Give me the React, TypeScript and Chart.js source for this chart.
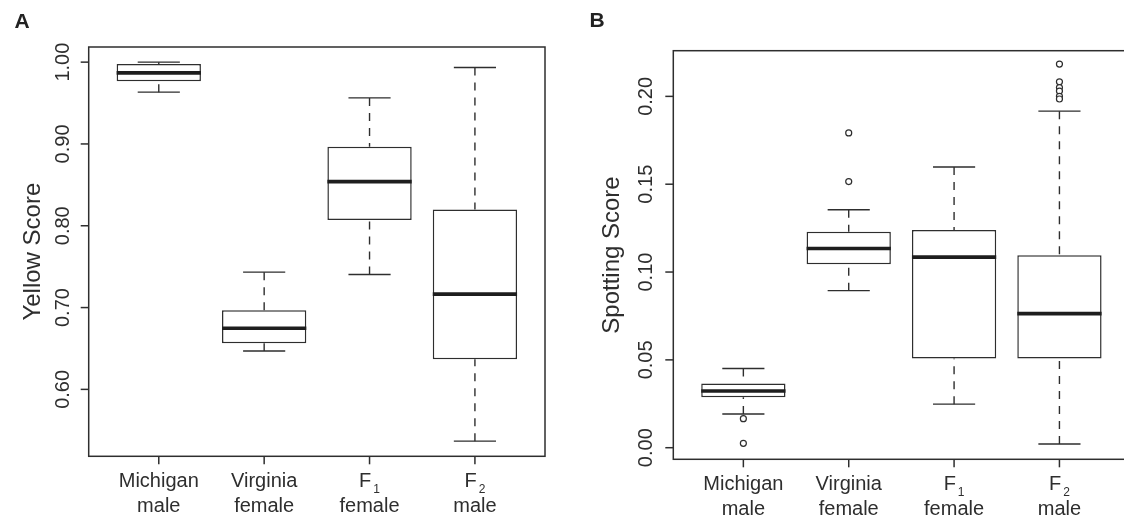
import React, { useEffect, useRef } from 'react';
import { Chart, registerables } from 'chart.js';

Chart.register(...registerables);

// ---- Data ----
const catLine1 = ['Michigan', 'Virginia', 'F', 'F'];
const catSub = ['', '', '1', '2'];
const catLine2 = ['male', 'female', 'female', 'male'];

// Panel A: Yellow Score
const yellowLo = [0.9633, 0.6470, 0.7404, 0.5367];
const yellowQ1 = [0.9767, 0.6564, 0.8070, 0.6368];
const yellowMed = [0.9869, 0.6748, 0.8539, 0.7164];
const yellowQ3 = [0.9976, 0.6968, 0.8967, 0.8200];
const yellowHi = [1.0000, 0.7433, 0.9563, 0.9934];
const yellowOutliers: number[][] = [[], [], [], []];
const yellowTicks = [0.6, 0.7, 0.8, 0.9, 1.0];

// Panel B: Spotting Score
const spotLo = [0.0192, 0.0894, 0.0248, 0.0021];
const spotQ1 = [0.0287, 0.1045, 0.0508, 0.0508];
const spotMed = [0.0323, 0.1134, 0.1085, 0.0763];
const spotQ3 = [0.0365, 0.1229, 0.1239, 0.1096];
const spotHi = [0.0451, 0.1355, 0.1598, 0.1916];
const spotOutliers: number[][] = [
  [0.0165, 0.0025],
  [0.1792, 0.1515],
  [],
  [0.2184, 0.2083, 0.2050, 0.2030, 0.2000, 0.1985],
];
const spotTicks = [0.0, 0.05, 0.10, 0.15, 0.20];

const INK = '#2e2e2e';
const FONT = '"Liberation Sans", Arial, sans-serif';

interface Panel {
  letter: string;
  title: string;
  lo: number[]; q1: number[]; med: number[]; q3: number[]; hi: number[];
  outliers: number[][];
  ticks: number[];
  yMin: number; yMax: number;
  width: number;
  padding: { left: number; right: number; top: number; bottom: number };
  tickLabelX: number;
  titleX: number;
  letterX: number; letterY: number;
}

const panels: Panel[] = [
  {
    letter: 'A', title: 'Yellow Score',
    lo: yellowLo, q1: yellowQ1, med: yellowMed, q3: yellowQ3, hi: yellowHi,
    outliers: yellowOutliers, ticks: yellowTicks,
    yMin: 0.5182, yMax: 1.0185,
    width: 560,
    padding: { left: 88.7, right: 15, top: 47, bottom: 64.7 },
    tickLabelX: 63, titleX: 33, letterX: 22, letterY: 22,
  },
  {
    letter: 'B', title: 'Spotting Score',
    lo: spotLo, q1: spotQ1, med: spotMed, q3: spotQ3, hi: spotHi,
    outliers: spotOutliers, ticks: spotTicks,
    yMin: -0.0066, yMax: 0.226,
    width: 600,
    padding: { left: 113.3, right: 30.5, top: 50.7, bottom: 61.7 },
    tickLabelX: 86, titleX: 52, letterX: 37, letterY: 21,
  },
];

function makePlugin(p: Panel) {
  return {
    id: 'boxdeco' + p.letter,
    beforeDatasetsDraw(chart: any) {
      const { ctx, scales } = chart;
      const x = scales.x, y = scales.y;
      ctx.save();
      ctx.strokeStyle = INK;
      ctx.lineWidth = 1.4;
      for (let i = 0; i < p.q1.length; i++) {
        const cx = x.getPixelForValue(i + 1);
        ctx.setLineDash([8, 7]);
        ctx.beginPath();
        ctx.moveTo(cx, y.getPixelForValue(p.hi[i]));
        ctx.lineTo(cx, y.getPixelForValue(p.q3[i]));
        ctx.moveTo(cx, y.getPixelForValue(p.lo[i]));
        ctx.lineTo(cx, y.getPixelForValue(p.q1[i]));
        ctx.stroke();
        ctx.setLineDash([]);
        const x0 = x.getPixelForValue(i + 1 - 0.2);
        const x1 = x.getPixelForValue(i + 1 + 0.2);
        ctx.beginPath();
        ctx.moveTo(x0, y.getPixelForValue(p.hi[i]));
        ctx.lineTo(x1, y.getPixelForValue(p.hi[i]));
        ctx.moveTo(x0, y.getPixelForValue(p.lo[i]));
        ctx.lineTo(x1, y.getPixelForValue(p.lo[i]));
        ctx.stroke();
      }
      ctx.restore();
    },
    afterDatasetsDraw(chart: any) {
      const { ctx, scales, chartArea } = chart;
      const x = scales.x, y = scales.y;
      ctx.save();
      // medians
      ctx.strokeStyle = '#1e1e1e';
      ctx.lineWidth = 3.6;
      for (let i = 0; i < p.med.length; i++) {
        const py = y.getPixelForValue(p.med[i]);
        ctx.beginPath();
        ctx.moveTo(x.getPixelForValue(i + 1 - 0.4), py);
        ctx.lineTo(x.getPixelForValue(i + 1 + 0.4), py);
        ctx.stroke();
      }
      // frame
      ctx.strokeStyle = INK;
      ctx.lineWidth = 1.5;
      ctx.strokeRect(chartArea.left, chartArea.top, chartArea.right - chartArea.left, chartArea.bottom - chartArea.top);
      // y ticks
      ctx.fillStyle = INK;
      ctx.font = `20px ${FONT}`;
      for (const t of p.ticks) {
        const py = y.getPixelForValue(t);
        ctx.beginPath();
        ctx.moveTo(chartArea.left - 8, py);
        ctx.lineTo(chartArea.left, py);
        ctx.stroke();
        ctx.save();
        ctx.translate(p.tickLabelX, py);
        ctx.rotate(-Math.PI / 2);
        ctx.textAlign = 'center';
        ctx.textBaseline = 'middle';
        ctx.fillText(t.toFixed(2), 0, 0);
        ctx.restore();
      }
      // x ticks and labels
      for (let i = 0; i < catLine1.length; i++) {
        const cx = x.getPixelForValue(i + 1);
        ctx.beginPath();
        ctx.moveTo(cx, chartArea.bottom);
        ctx.lineTo(cx, chartArea.bottom + 8);
        ctx.stroke();
        ctx.textBaseline = 'middle';
        ctx.font = `20px ${FONT}`;
        const l1y = chartArea.bottom + 25.4;
        if (catSub[i]) {
          const w = ctx.measureText(catLine1[i]).width;
          ctx.font = `12px ${FONT}`;
          const ws = ctx.measureText(catSub[i]).width;
          const total = w + 2 + ws;
          const start = cx - total / 2;
          ctx.textAlign = 'left';
          ctx.font = `20px ${FONT}`;
          ctx.fillText(catLine1[i], start, l1y);
          ctx.font = `12px ${FONT}`;
          ctx.fillText(catSub[i], start + w + 2, l1y + 8);
        } else {
          ctx.textAlign = 'center';
          ctx.fillText(catLine1[i], cx, l1y);
        }
        ctx.font = `20px ${FONT}`;
        ctx.textAlign = 'center';
        ctx.fillText(catLine2[i], cx, l1y + 25);
      }
      // axis title
      ctx.save();
      ctx.translate(p.titleX, (chartArea.top + chartArea.bottom) / 2);
      ctx.rotate(-Math.PI / 2);
      ctx.font = `24px ${FONT}`;
      ctx.textAlign = 'center';
      ctx.textBaseline = 'middle';
      ctx.fillText(p.title, 0, 0);
      ctx.restore();
      // panel letter
      ctx.font = `bold 21px ${FONT}`;
      ctx.textAlign = 'center';
      ctx.textBaseline = 'middle';
      ctx.fillStyle = '#222';
      ctx.fillText(p.letter, p.letterX, p.letterY);
      ctx.restore();
    },
  };
}

function BoxPanel({ p }: { p: Panel }) {
  const ref = useRef<HTMLCanvasElement>(null);
  useEffect(() => {
    if (!ref.current) return;
    const boxData = p.q1.map((q, i) => ({ x: i + 1, y: [q, p.q3[i]] }));
    const outData: { x: number; y: number }[] = [];
    p.outliers.forEach((arr, i) => arr.forEach((v) => outData.push({ x: i + 1, y: v })));
    const chart = new Chart(ref.current, {
      type: 'bar',
      data: {
        datasets: [
          {
            type: 'bar',
            data: boxData as any,
            backgroundColor: '#ffffff',
            borderColor: INK,
            borderWidth: 1.5,
            borderSkipped: false,
            barPercentage: 0.8,
            categoryPercentage: 1.0,
          } as any,
          {
            type: 'scatter',
            data: outData,
            pointRadius: 3,
            pointBackgroundColor: '#ffffff',
            pointBorderColor: INK,
            pointBorderWidth: 1.2,
          } as any,
        ],
      },
      options: {
        animation: false,
        responsive: false,
        devicePixelRatio: 1,
        layout: { padding: p.padding },
        plugins: { legend: { display: false }, tooltip: { enabled: false } },
        scales: {
          x: {
            type: 'linear',
            display: false,
            offset: false,
            min: 0.335,
            max: 4.665,
            afterBuildTicks: (s: any) => {
              s.ticks = [1, 2, 3, 4].map((v) => ({ value: v }));
            },
          },
          y: {
            type: 'linear',
            display: false,
            min: p.yMin,
            max: p.yMax,
          },
        },
      },
      plugins: [makePlugin(p)],
    });
    return () => chart.destroy();
  }, [p]);
  return <canvas ref={ref} width={p.width} height={521} style={{ display: 'block', width: p.width, height: 521 }} />;
}

export default function App() {
  return (
    <div style={{ position: 'fixed', left: 0, top: 0, width: 1124, height: 521, overflow: 'hidden', background: '#fff' }}>
      <div style={{ position: 'absolute', left: 0, top: 0 }}>
        <BoxPanel p={panels[0]} />
      </div>
      <div style={{ position: 'absolute', left: 560, top: 0 }}>
        <BoxPanel p={panels[1]} />
      </div>
    </div>
  );
}
